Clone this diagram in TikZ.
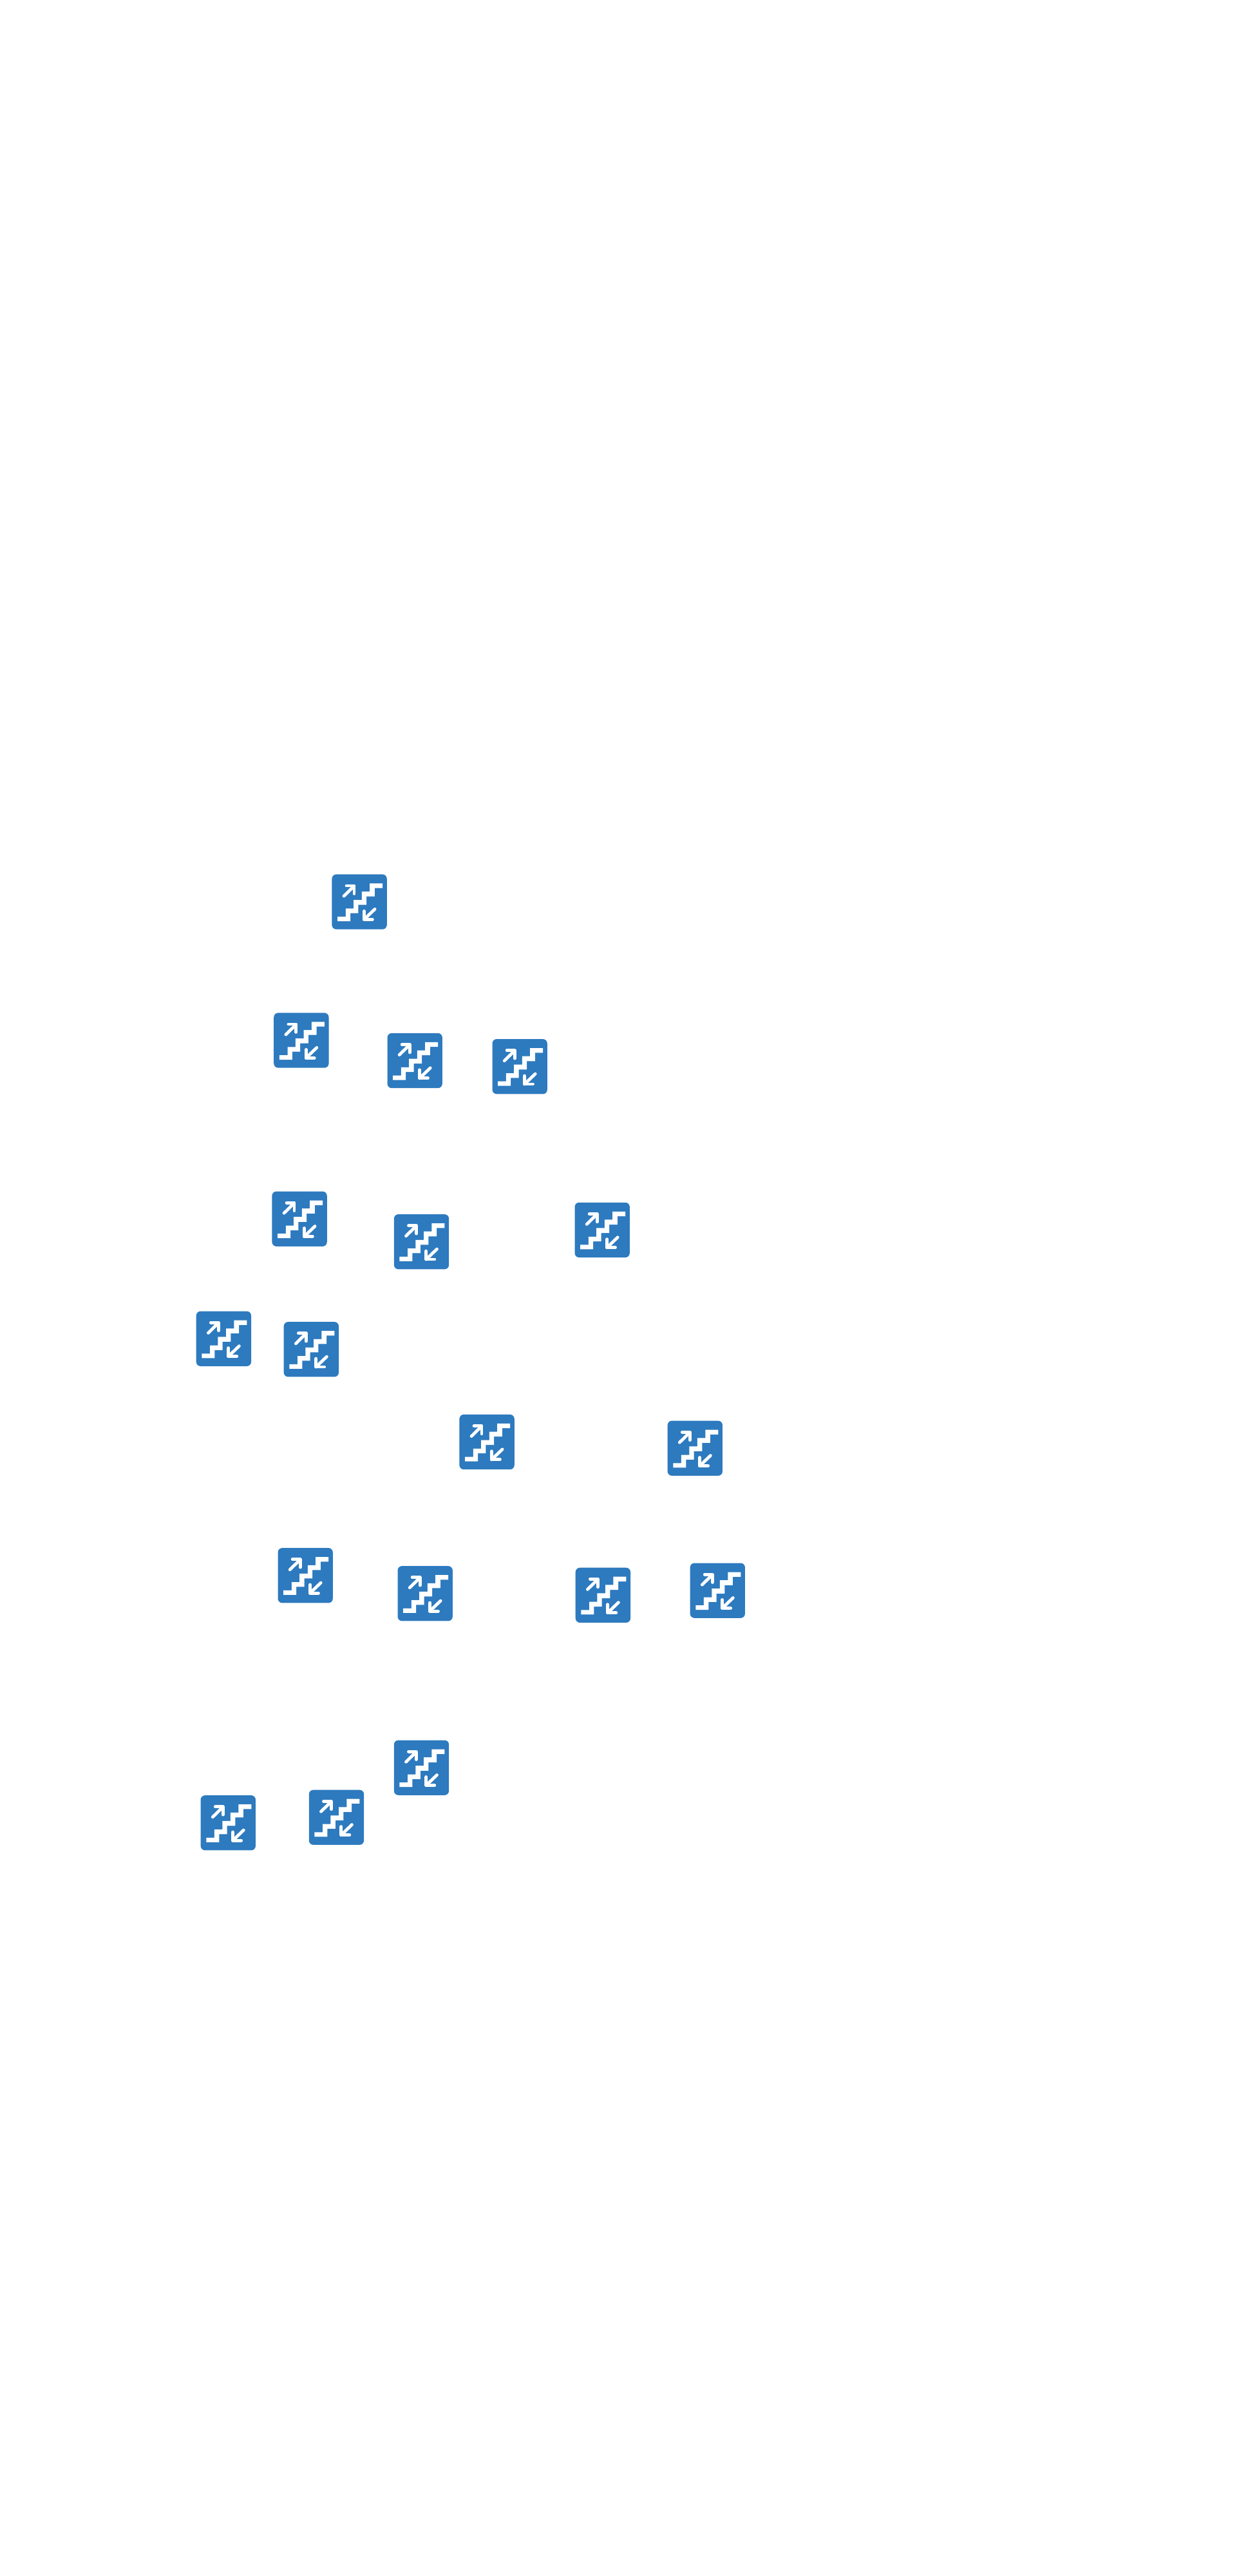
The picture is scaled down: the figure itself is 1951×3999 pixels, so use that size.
\documentclass[tikz,border=0pt]{standalone}
\definecolor{stairblue}{HTML}{2D7ABF}
\tikzset{
  iconbox/.style={fill=stairblue,draw=none,rounded corners=3.4pt},
  stairshape/.style={fill=white,draw=none},
  liftarrow/.style={draw=white,line width=2.4pt,line cap=round,line join=round},
  stairicon/.pic={
    \path[iconbox] (0,0) rectangle (256,256);
    \path[stairshape] (26,218) -- (26,197) -- (64,197) -- (64,159) -- (101,159) -- (101,119)
      -- (139,119) -- (139,80) -- (176,80) -- (176,42) -- (236,42) -- (236,64) -- (199,64)
      -- (199,103) -- (161,103) -- (161,142) -- (123,142) -- (123,181) -- (86,181) -- (86,218) -- cycle;
    \draw[liftarrow] (56,101) -- (103,55);
    \draw[liftarrow] (68,53) -- (104,53) -- (104,90);
    \draw[liftarrow] (200,162) -- (150,210);
    \draw[liftarrow] (150,171) -- (150,210) -- (189,210);
  }
}
\begin{document}
\begin{tikzpicture}[x=0.5pt,y=-0.5pt]
\path[use as bounding box,fill=white] (0,0) rectangle (1951,3999);
\foreach \ix/\iy in {
  515.4/1357.3, 425.2/1572.3, 601.5/1603.8, 764.5/1613,
  422.4/1849.5, 611.8/1885, 892.5/1866.7,
  304.7/2035.5, 440.7/2052,
  713.4/2195.8, 1036.6/2205.5,
  431.5/2403, 617.5/2431, 893.7/2433.6, 1071.6/2426.4,
  611.8/2701.4, 311.6/2787, 479.8/2778.5}
{
  \pic[x=0.16667pt,y=-0.16667pt,shift={(\ix*3,\iy*3)}] {stairicon};
}
\end{tikzpicture}
\end{document}
